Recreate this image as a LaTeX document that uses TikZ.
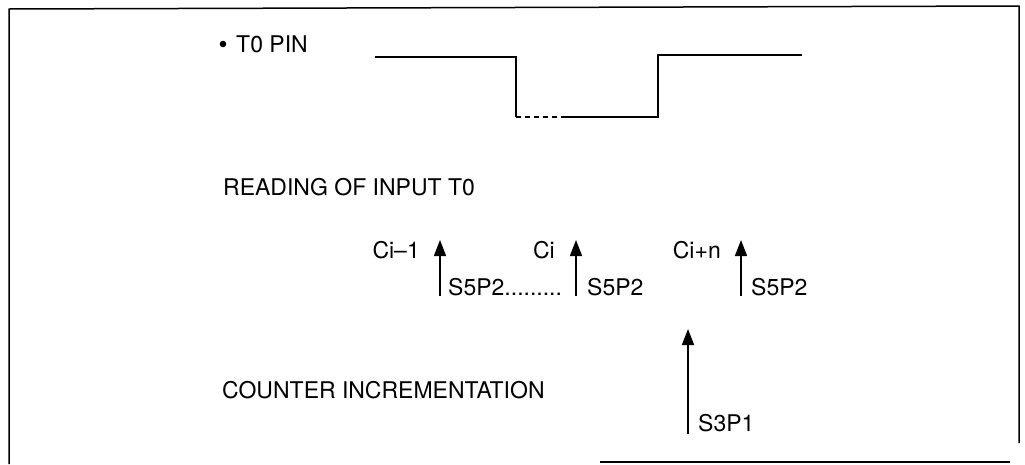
\documentclass[tikz,border=0pt]{standalone}
\usepackage{fontspec}
\setmainfont{TeX Gyre Heros}
\usetikzlibrary{arrows.meta,positioning}

\begin{document}
\begin{tikzpicture}[x=1pt,y=-1pt,>={Triangle[width=12pt,length=16pt]},font=\fontsize{23}{27}\selectfont]
\tikzstyle{lbl}=[inner sep=0pt,anchor=base west]
\tikzstyle{arr}=[->,line width=1.6pt]
\tikzstyle{wave}=[line width=1.4pt]
\useasboundingbox (0,0) rectangle (1025,464);
% frame
\draw[line width=1.5pt] (9,464) -- (9,9) -- (1019,6) -- (1019,443);
\draw[line width=1.5pt] (600,462) -- (1010,462);
% titles
\node[lbl] (pin) at (236,52) {T0 PIN};
\fill (223,44) circle (3.3pt);
\node[lbl] (rd) at (223,195) {READING OF INPUT T0};
\node[lbl] (ci) at (222,398) {COUNTER INCREMENTATION};
% T0 pin waveform
\coordinate (w0) at (375,57);
\coordinate (w1) at (516,57);
\coordinate (w2) at (516,117);
\coordinate (w3) at (563,117);
\coordinate (w4) at (658,117);
\coordinate (w5) at (658,55);
\coordinate (w6) at (802,55);
\draw[wave] (w0) -- (w1) -- (w2);
\draw[wave,dashed,dash pattern=on 5pt off 4pt] (w2) -- (w3);
\draw[wave] (w3) -- (w4) -- (w5) -- (w6);
% reading of T0
\coordinate (r1b) at (440,296); \coordinate (r1t) at (440,240);
\coordinate (r2b) at (576,296); \coordinate (r2t) at (576,240);
\coordinate (r3b) at (741,296); \coordinate (r3t) at (741,240);
\draw[arr] (r1b) -- (r1t);
\draw[arr] (r2b) -- (r2t);
\draw[arr] (r3b) -- (r3t);
\node[inner sep=0pt,anchor=base east] (c1) at (420,258) {Ci--1};
\node[inner sep=0pt,anchor=base east] (c2) at (555,258) {Ci};
\node[inner sep=0pt,anchor=base east] (c3) at (721,258) {Ci+n};
\node[lbl] (s1) at (448,295) {S5P2.........};
\node[lbl] (s2) at (587,295) {S5P2};
\node[lbl] (s3) at (751,295) {S5P2};
% counter incrementation
\coordinate (kb) at (688,434); \coordinate (kt) at (688,329);
\draw[arr] (kb) -- (kt);
\node[lbl] (k) at (698,431) {S3P1};
\end{tikzpicture}
\end{document}
